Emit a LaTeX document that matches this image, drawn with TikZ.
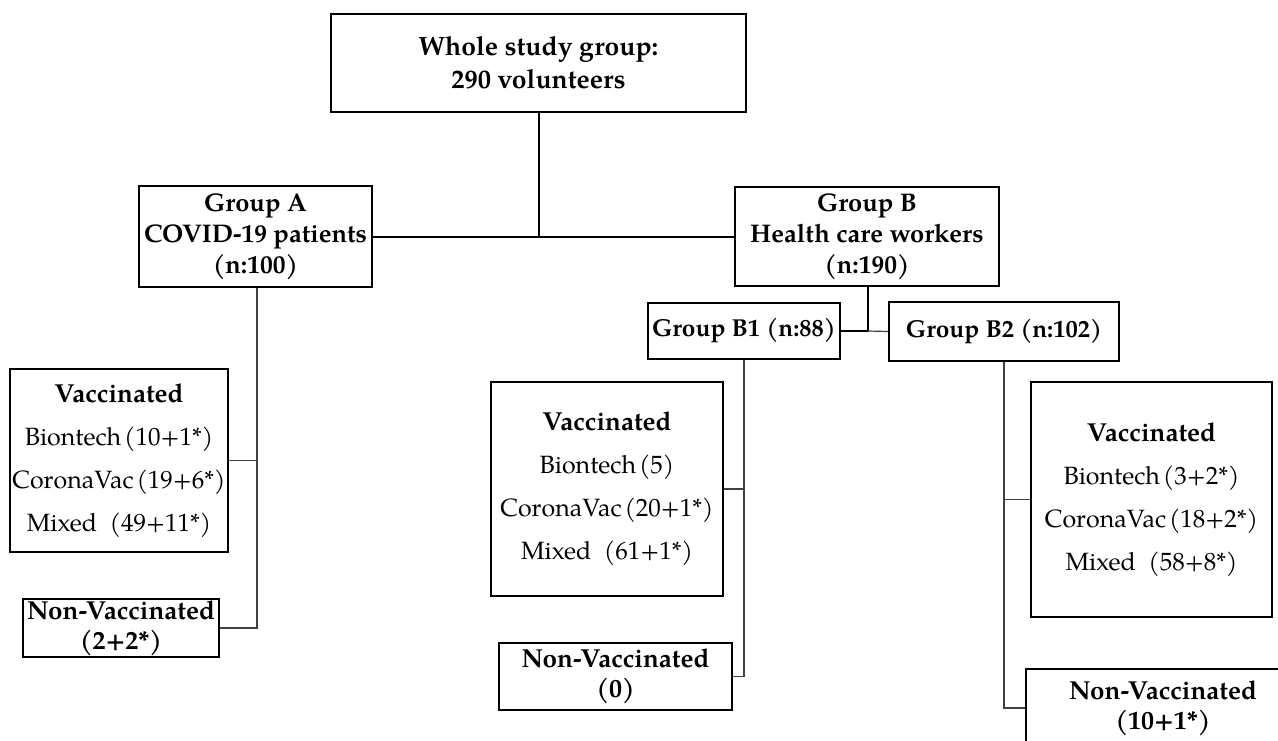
\documentclass[tikz,border=0pt]{standalone}
\usepackage{fontspec}
\setmainfont{texgyrepagella}[Extension=.otf,UprightFont=*-regular,BoldFont=*-bold,ItalicFont=*-italic,BoldItalicFont=*-bolditalic]
\newcommand{\ns}{\hspace{0.12em}}
\begin{document}
\begin{tikzpicture}[x=1pt,y=-1pt,
  box/.style={draw=black,line width=2pt,align=center,inner sep=0pt,font=\fontsize{25.5}{31}\selectfont\bfseries},
  sbox/.style={draw=black,line width=2pt,align=center,inner sep=0pt,font=\fontsize{24.5}{31}\selectfont\bfseries},
  vbox/.style={draw=black,line width=1.7pt,align=center,inner sep=0pt,font=\fontsize{25}{43}\selectfont},
  nbox/.style={draw=black,line width=1.7pt,align=center,inner sep=0pt,font=\fontsize{26}{30}\selectfont\bfseries},
  thick link/.style={draw=black,line width=2pt},
  thin link/.style={draw=black!75,line width=1.2pt}]
\useasboundingbox (0,0) rectangle (1278,740);
\node[box,minimum width=415pt,minimum height=98pt,font=\fontsize{26.5}{33}\selectfont\bfseries] (top) at (538.5,63) {Whole study group:\\290 volunteers};
\node[box,minimum width=233pt,minimum height=101pt] (A) at (255.5,236.5) {Group A\\COVID-19 patients\\(n:100)};
\node[box,minimum width=264pt,minimum height=99pt] (B) at (867,236.5) {Group B\\Health care workers\\(n:190)};
\node[sbox,minimum width=192pt,minimum height=56pt] (B1) at (744,331) {Group B1 (n:88)};
\node[sbox,minimum width=230pt,minimum height=59pt] (B2) at (1004,331.5) {Group B2 (n:102)};
\node[vbox,minimum width=218pt,minimum height=183pt] (VA) at (119,460.5) {\textbf{\fontsize{26}{43}\selectfont Vaccinated}\\Biontech\ns(10+1*)\\CoronaVac\ns(19+6*)\\Mixed\ \ (49+11*)};
\node[nbox,minimum width=196pt,minimum height=58pt] (NA) at (121,628) {Non-Vaccinated\\(2+2*)};
\node[vbox,minimum width=232pt,minimum height=214pt] (VB1) at (607,489) {\textbf{\fontsize{26}{43}\selectfont Vaccinated}\\Biontech\ns(5)\\CoronaVac\ns(20+1*)\\Mixed\ \ (61+1*)};
\node[nbox,minimum width=233pt,minimum height=67pt] (NB1) at (615.5,676.5) {Non-Vaccinated\\(0)};
\node[vbox,minimum width=241pt,minimum height=235pt] (VB2) at (1151.5,499.5) {\textbf{\fontsize{26}{43}\selectfont Vaccinated}\\Biontech\ns(3+2*)\\CoronaVac\ns(18+2*)\\Mixed\ \ (58+8*)};
\node[nbox,minimum width=274pt,minimum height=78pt] (NB2) at (1163,708) {Non-Vaccinated\\(10+1*)};
% upper connectors
\draw[thick link] (A.east) -- (B.west);
\draw[thick link] (top.south) -- (top.south |- A.east);
\coordinate (bj) at ([xshift=1pt]B.south);
\draw[thick link] (bj) -- (bj |- B1.east) -- (B1.east);
\draw[thin link] (bj |- B1.east) -- (B2.west);
% lower connectors
\coordinate (aj) at ([xshift=1.5pt]A.south);
\draw[thin link] (aj) |- (NA.east);
\draw[thin link] (VA.east) -- (VA.east -| aj);
\draw[thin link] (B1.south) |- (NB1.east);
\draw[thin link] (VB1.east) -- (VB1.east -| B1.south);
\draw[thin link] (B2.south) |- (NB2.west);
\draw[thin link] (VB2.west) -- (VB2.west -| B2.south);
\end{tikzpicture}
\end{document}
